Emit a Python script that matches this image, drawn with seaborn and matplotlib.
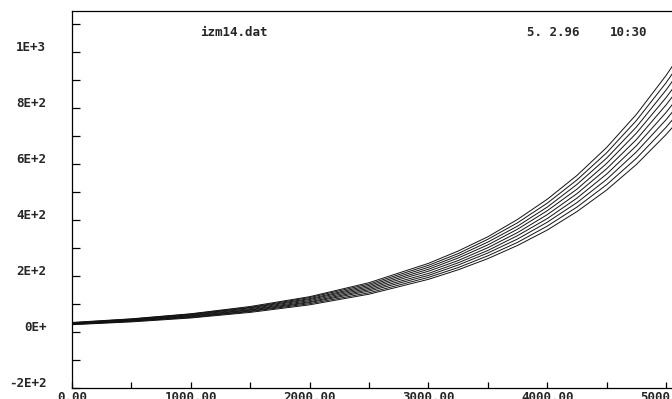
import matplotlib
matplotlib.use("Agg")
import matplotlib.pyplot as plt
import matplotlib.transforms as mtransforms
import numpy as np
import pandas as pd
import seaborn as sns

# x positions of the readings (same for every curve)
x_vals = [0, 500, 1000, 1500, 2000, 2500, 3000, 3250, 3500, 3750,
          4000, 4250, 4500, 4750, 5000, 5100]

# nine curves of the bundle, lowest to highest
curve_1 = [26, 36, 50, 70, 97, 135, 188, 222, 262, 309, 364, 430, 507, 598, 705, 753]
curve_2 = [27, 38, 52, 73, 101, 140, 195, 230, 272, 320, 378, 446, 526, 620, 731, 781]
curve_3 = [28, 39, 54, 75, 105, 146, 202, 239, 282, 332, 392, 462, 545, 643, 758, 810]
curve_4 = [29, 40, 56, 78, 108, 151, 209, 247, 291, 344, 405, 478, 564, 665, 784, 838]
curve_5 = [30, 42, 58, 80, 112, 156, 217, 255, 301, 355, 419, 494, 583, 687, 811, 866]
curve_6 = [31, 43, 60, 83, 116, 161, 224, 264, 311, 367, 433, 510, 602, 710, 837, 894]
curve_7 = [32, 44, 62, 86, 119, 166, 231, 272, 321, 378, 446, 527, 621, 732, 864, 923]
curve_8 = [33, 46, 64, 88, 123, 171, 238, 280, 331, 390, 460, 543, 640, 755, 890, 951]
curve_9 = [34, 47, 65, 91, 126, 176, 245, 289, 340, 402, 474, 559, 659, 777, 916, 979]
curves = [curve_1, curve_2, curve_3, curve_4, curve_5, curve_6, curve_7, curve_8, curve_9]

y_ticks = [-200, 0, 200, 400, 600, 800, 1000]
y_tick_labels = ["-2E+2", "0E+", "2E+2", "4E+2", "6E+2", "8E+2", "1E+3"]
x_ticks = [0, 1000, 2000, 3000, 4000, 5000]
x_tick_labels = ["0.00", "1000.00", "2000.00", "3000.00", "4000.00", "5000.00"]

title_left = "izm14.dat"
date_text = "5. 2.96"
time_text = "10:30"

frame = pd.DataFrame(
    {
        "x": x_vals * len(curves),
        "y": [v for c in curves for v in c],
        "curve": [i for i, c in enumerate(curves) for _ in c],
    }
)

sns.set_style("ticks")
plt.rcParams["font.family"] = ["DejaVu Sans Mono", "DejaVu Sans"]
plt.rcParams["font.weight"] = "bold"

fig = plt.figure(figsize=(6.72, 3.99), dpi=100)
ax = fig.add_axes([72 / 672, 11 / 399, 606 / 672, 377 / 399])

sns.lineplot(data=frame, x="x", y="y", units="curve", estimator=None,
             color="#111111", lw=0.7, ax=ax)

ax.set_xlim(0, 5100)
ax.set_ylim(-200, 1146)
ax.set_xlabel("")
ax.set_ylabel("")

ax.set_yticks(y_ticks)
ax.set_yticklabels(y_tick_labels)
ax.set_yticks(np.arange(-100, 1101, 200), minor=True)
ax.set_xticks(x_ticks)
ax.set_xticklabels(x_tick_labels)
ax.set_xticks(np.arange(500, 5001, 1000), minor=True)

ax.tick_params(axis="both", which="both", direction="in", color="black", width=0.9)
ax.tick_params(axis="y", which="both", length=5.5, pad=18.5, labelsize=9)
ax.tick_params(axis="x", which="both", length=4.5, pad=2, labelsize=9)

shift = mtransforms.ScaledTranslation(0, 0.06, fig.dpi_scale_trans)
for lab in ax.get_yticklabels():
    lab.set_transform(lab.get_transform() + shift)
    lab.set_fontweight("bold")
for lab in ax.get_xticklabels():
    lab.set_fontweight("bold")

for side in ["left", "top", "bottom", "right"]:
    ax.spines[side].set_visible(True)
    ax.spines[side].set_color("black")
    ax.spines[side].set_linewidth(0.9)

fig.text(200 / 672, 1 - 33 / 399, title_left, fontsize=9, fontweight="bold",
         ha="left", va="center")
fig.text(527 / 672, 1 - 33 / 399, date_text, fontsize=9, fontweight="bold",
         ha="left", va="center")
fig.text(610 / 672, 1 - 33 / 399, time_text, fontsize=9, fontweight="bold",
         ha="left", va="center")

fig.savefig("out.png", dpi=100)
